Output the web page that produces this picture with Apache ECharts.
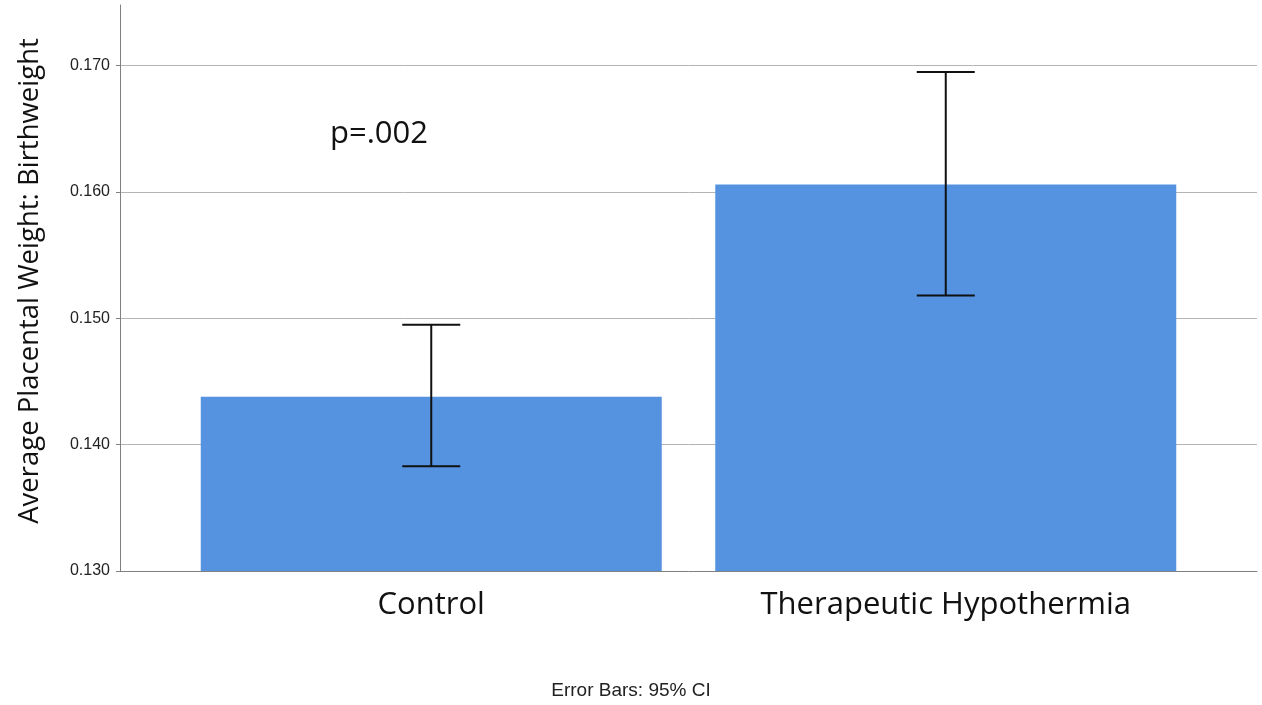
<!DOCTYPE html>
<html>
<head>
<meta charset="utf-8">
<style>
  html, body { margin: 0; padding: 0; background: #fff; }
  #chart { width: 1262px; height: 705px; }
</style>
<script src="https://cdn.jsdelivr.net/npm/echarts@6/dist/echarts.min.js"></script>
</head>
<body>
<div id="chart"></div>
<script>
// Group names and mean placental weight : birthweight ratio with 95% CI
const categories = ['Control', 'Therapeutic Hypothermia'];
const means = [0.1438, 0.1606];
const ciLower = [0.1383, 0.1518];
const ciUpper = [0.1495, 0.1695];

const yMin = 0.130;
const yMax = 0.1748;
const yStep = 0.010;

const pLabel = 'p=.002';
const footnote = 'Error Bars: 95% CI';

const barColor = '#5593E1';
const sansUI = '"Open Sans", "Noto Sans", sans-serif';
const sansArial = '"Liberation Sans", Arial, sans-serif';

const chart = echarts.init(document.getElementById('chart'), null, { renderer: 'canvas' });

const errorData = categories.map((c, i) => [i, ciLower[i], ciUpper[i]]);

const option = {
  backgroundColor: '#ffffff',
  animation: false,
  grid: [
    // frame grid: axis lines, y ticks and gridlines
    { left: 120, right: 5, top: 5, bottom: 134 },
    // bar grid: narrower category band so the bars sit where they belong
    { left: 174, right: 59, top: 5, bottom: 134 }
  ],
  xAxis: [
    {
      gridIndex: 0, type: 'category', data: [''],
      axisLine: { show: true, lineStyle: { color: '#808080', width: 1 } },
      axisTick: { show: false }, axisLabel: { show: false }, splitLine: { show: false }
    },
    {
      gridIndex: 1, type: 'category', data: categories,
      axisLine: { show: false }, axisTick: { show: false },
      axisLabel: {
        color: '#111', fontFamily: sansUI, fontSize: 31, margin: 19
      }
    }
  ],
  yAxis: [
    {
      gridIndex: 0, type: 'value', min: yMin, max: yMax, interval: yStep,
      name: 'Average Placental Weight: Birthweight',
      nameLocation: 'middle', nameGap: 76, nameRotate: 90,
      nameTextStyle: { color: '#111', fontFamily: sansUI, fontSize: 27.5, padding: [0, 0, 0, 14] },
      axisLine: { show: true, lineStyle: { color: '#808080', width: 1 } },
      axisTick: { show: true, length: 4, lineStyle: { color: '#808080' } },
      axisLabel: {
        color: '#222', fontFamily: sansArial, fontSize: 16, margin: 10,
        showMaxLabel: false,
        formatter: v => v.toFixed(3)
      },
      splitLine: { show: true, showMinLine: false, showMaxLine: false, lineStyle: { color: '#b4b4b4', width: 1 } }
    },
    {
      gridIndex: 1, type: 'value', min: yMin, max: yMax, interval: yStep,
      show: false, splitLine: { show: false }
    }
  ],
  series: [
    {
      type: 'bar', xAxisIndex: 1, yAxisIndex: 1,
      data: means, barWidth: 461,
      itemStyle: { color: barColor },
      z: 2
    },
    {
      type: 'custom', xAxisIndex: 1, yAxisIndex: 1,
      data: errorData,
      z: 5,
      renderItem: function (params, api) {
        const x = api.value(0);
        const lo = api.coord([x, api.value(1)]);
        const hi = api.coord([x, api.value(2)]);
        const half = 29;
        const style = { stroke: '#111', lineWidth: 2 };
        return {
          type: 'group',
          children: [
            { type: 'line', shape: { x1: hi[0], y1: hi[1], x2: lo[0], y2: lo[1] }, style },
            { type: 'line', shape: { x1: hi[0] - half, y1: hi[1], x2: hi[0] + half, y2: hi[1] }, style },
            { type: 'line', shape: { x1: lo[0] - half, y1: lo[1], x2: lo[0] + half, y2: lo[1] }, style }
          ]
        };
      }
    }
  ],
  graphic: [
    {
      type: 'text', left: 330, top: 119,
      style: { text: pLabel, fill: '#111', font: '31px ' + sansUI }
    },
    {
      type: 'text', left: 'center', top: 681,
      style: { text: footnote, fill: '#222', font: '19px ' + sansArial }
    }
  ]
};

chart.setOption(option);
</script>
</body>
</html>
